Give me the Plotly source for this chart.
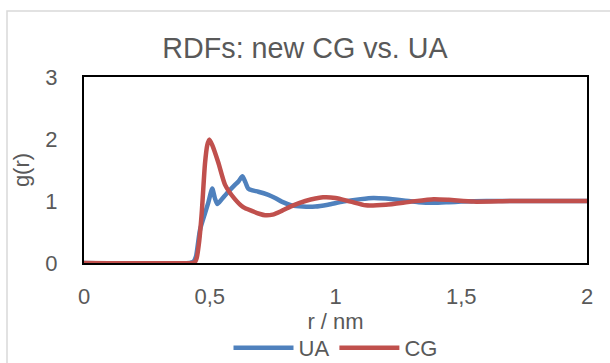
import plotly.graph_objects as go

# UA series
ua_r = [0, 0.42, 0.435, 0.445, 0.461, 0.481, 0.494, 0.51, 0.52, 0.53, 0.55, 0.574, 0.6, 0.615,
        0.63, 0.642, 0.653, 0.67, 0.693, 0.733, 0.76, 0.786, 0.826, 0.87, 0.92, 0.97, 1.03,
        1.1, 1.15, 1.2, 1.27, 1.33, 1.39, 1.45, 1.5, 1.6, 1.7, 1.8, 1.9, 2.0]
ua_g = [0, 0, 0.02, 0.1, 0.53, 0.8, 0.97, 1.2, 1.05, 0.95, 1.04, 1.15, 1.26, 1.32,
        1.40, 1.3, 1.2, 1.17, 1.15, 1.1, 1.05, 0.99, 0.93, 0.91, 0.91, 0.94, 0.99,
        1.03, 1.05, 1.04, 1.01, 0.98, 0.97, 0.98, 0.99, 1.0, 1.0, 1.0, 1.0, 1.0]

# CG series
cg_r = [0, 0.43, 0.44, 0.448, 0.458, 0.468, 0.481, 0.49, 0.498, 0.51, 0.534, 0.561, 0.6,
        0.633, 0.667, 0.7, 0.72, 0.75, 0.786, 0.832, 0.88, 0.95, 1.0, 1.06, 1.12, 1.2,
        1.3, 1.39, 1.45, 1.55, 1.7, 1.85, 2.0]
cg_g = [0, 0, 0.01, 0.08, 0.35, 0.8, 1.6, 1.9, 1.99, 1.9, 1.62, 1.26, 1.03,
        0.9, 0.84, 0.79, 0.77, 0.78, 0.84, 0.93, 1.0, 1.06, 1.05, 0.99, 0.93, 0.94,
        0.99, 1.03, 1.02, 0.99, 1.0, 1.0, 1.0]

x_ticks = [0, 0.5, 1, 1.5, 2]
y_ticks = [0, 1, 2, 3]

TXT = "#595959"
FONT = "Liberation Sans, Arial, sans-serif"

fig = go.Figure()
fig.add_trace(go.Scatter(x=ua_r, y=ua_g, mode="lines", name="UA",
                         line=dict(color="#4F81BD", width=4.5, shape="spline", smoothing=0.6)))
fig.add_trace(go.Scatter(x=cg_r, y=cg_g, mode="lines", name="CG",
                         line=dict(color="#C0504D", width=4.5, shape="spline", smoothing=0.6)))

fig.update_layout(
    width=610, height=363,
    margin=dict(l=84, r=23, t=77, b=100, autoexpand=False),
    paper_bgcolor="white", plot_bgcolor="white",
    separators=", ",
    font=dict(family=FONT, color=TXT, size=22),
    title=dict(text="RDFs: new CG vs. UA", x=0.5, xanchor="center", y=1 - 48 / 363,
               yanchor="middle", font=dict(size=28.7, color=TXT, family=FONT)),
    showlegend=True,
    legend=dict(orientation="h", x=0.5, xanchor="center", y=-0.457, yanchor="middle",
                font=dict(size=22, color=TXT), itemwidth=60, tracegroupgap=0,
                bgcolor="rgba(0,0,0,0)"),
    xaxis=dict(range=[0, 2], tickvals=x_ticks, showgrid=False, zeroline=False,
               showline=True, linecolor="black", linewidth=2, mirror=True, ticks="",
               automargin=False,
               ticklabelstandoff=13, tickfont=dict(size=22, color=TXT),
               title=dict(text="r / nm", font=dict(size=22, color=TXT), standoff=2)),
    yaxis=dict(range=[0, 3], tickvals=y_ticks, showgrid=False, zeroline=False,
               showline=True, linecolor="black", linewidth=2, mirror=True, ticks="",
               automargin=False,
               ticklabelstandoff=20, tickfont=dict(size=22, color=TXT),
               title=dict(text="g(r)", font=dict(size=22, color=TXT), standoff=10)),
)

# outer chart border (light grey)
fig.add_shape(type="rect", xref="paper", yref="paper",
              x0=(7 - 84) / 503, x1=1.2, y0=-1.0, y1=(263 - 11) / 186,
              line=dict(color="#D9D9D9", width=1.5), fillcolor="rgba(0,0,0,0)", layer="below")

fig.write_html("out.html")
